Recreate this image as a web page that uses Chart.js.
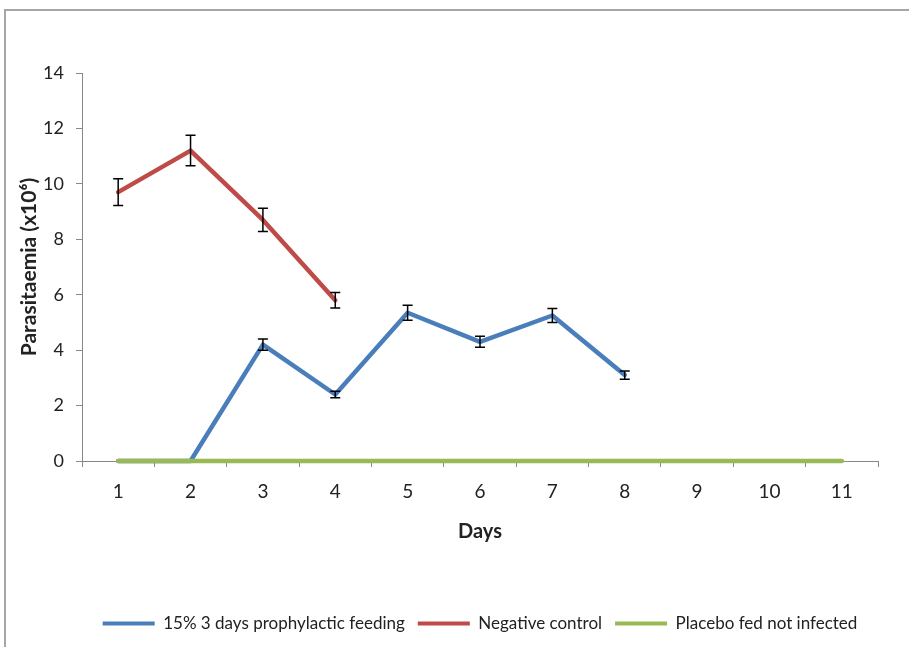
<!DOCTYPE html>
<html>
<head>
<meta charset="utf-8">
<script src="https://cdn.jsdelivr.net/npm/chart.js@4"></script>
<style>
    body { margin: 0; background: #fff; }
    #wrap { position: relative; width: 909px; height: 647px; overflow: hidden; }
    #frame { position: absolute; left: 4px; top: 9px; width: 1000px; height: 1000px;
             border-left: 2px solid #a6a6a6; border-top: 2px solid #a6a6a6; }
    #chart { position: absolute; left: 0; top: 0; }
</style>
</head>
<body>
<div id="wrap">
    <div id="frame"></div>
    <canvas id="chart" width="909" height="647"></canvas>
</div>
<script>
const days = ['1', '2', '3', '4', '5', '6', '7', '8', '9', '10', '11'];

// 15% 3 days prophylactic feeding
const prophylactic = [0, 0, 4.2, 2.4, 5.35, 4.3, 5.25, 3.1, null, null, null];
const prophylacticErr = [0, 0, 0.2, 0.12, 0.27, 0.2, 0.25, 0.15, null, null, null];

// Negative control
const negative = [9.7, 11.2, 8.7, 5.8, null, null, null, null, null, null, null];
const negativeErr = [0.48, 0.55, 0.42, 0.28, null, null, null, null, null, null, null];

// Placebo fed not infected
const placebo = [0, 0, 0, 0, 0, 0, 0, 0, 0, 0, 0];

const yTicks = [0, 2, 4, 6, 8, 10, 12, 14];

const fontFamily = 'Lato, "Open Sans", sans-serif';
const axisGrey = '#888888';

// draws the whiskers for datasets that carry an errors array
const errorBars = {
    id: 'errorBars',
    afterDatasetsDraw(chart) {
        const ctx = chart.ctx;
        const xs = chart.scales.x;
        const ys = chart.scales.y;
        ctx.save();
        ctx.strokeStyle = '#000';
        ctx.lineWidth = 1.5;
        chart.data.datasets.forEach(ds => {
            if (!ds.errors) return;
            ds.data.forEach((v, i) => {
                const e = ds.errors[i];
                if (v === null || !e) return;
                const x = xs.getPixelForValue(i);
                const top = ys.getPixelForValue(v + e);
                const bot = ys.getPixelForValue(v - e);
                ctx.beginPath();
                ctx.moveTo(x, top); ctx.lineTo(x, bot);
                ctx.moveTo(x - 5, top); ctx.lineTo(x + 5, top);
                ctx.moveTo(x - 5, bot); ctx.lineTo(x + 5, bot);
                ctx.stroke();
            });
        });
        ctx.restore();
    }
};

const ctx = document.getElementById('chart').getContext('2d');
new Chart(ctx, {
    type: 'line',
    data: {
        labels: days,
        datasets: [
            {
                label: '15% 3 days prophylactic feeding',
                data: prophylactic,
                errors: prophylacticErr,
                borderColor: '#4a7ebb',
                backgroundColor: '#4a7ebb',
                order: 2
            },
            {
                label: 'Negative control',
                data: negative,
                errors: negativeErr,
                borderColor: '#be4b48',
                backgroundColor: '#be4b48',
                order: 1
            },
            {
                label: 'Placebo fed not infected',
                data: placebo,
                borderColor: '#98b954',
                backgroundColor: '#98b954',
                order: 0
            }
        ]
    },
    options: {
        responsive: false,
        animation: false,
        spanGaps: false,
        datasets: { line: { clip: false } },
        elements: {
            point: { radius: 0, hoverRadius: 0 },
            line: { borderWidth: 4.5, tension: 0, borderCapStyle: 'round', borderJoinStyle: 'round' }
        },
        layout: { padding: { left: 17, right: 31, top: 73, bottom: 5 } },
        scales: {
            x: {
                offset: true,
                grid: { drawOnChartArea: false, offset: true, tickLength: 6, color: axisGrey },
                border: { color: axisGrey, width: 1 },
                ticks: { color: '#222', padding: 13, font: { family: fontFamily, size: 19 } },
                title: {
                    display: true,
                    text: 'Days',
                    color: '#222',
                    padding: { top: 0, bottom: 58 },
                    font: { family: fontFamily, size: 20, weight: 'bold' }
                },
                afterFit(scale) { scale.height = 141; }
            },
            y: {
                min: 0,
                max: 14,
                afterBuildTicks(scale) { scale.ticks = yTicks.map(v => ({ value: v })); },
                grid: { drawOnChartArea: false, tickLength: 6, color: axisGrey },
                border: { color: axisGrey, width: 1 },
                ticks: { color: '#222', padding: 12, font: { family: fontFamily, size: 18 } },
                title: {
                    display: true,
                    text: 'Parasitaemia (x10⁶)',
                    color: '#222',
                    padding: { top: 0, bottom: 0 },
                    font: { family: fontFamily, size: 21, weight: 'bold' }
                },
                afterFit(scale) { scale.width = 65; }
            }
        },
        plugins: {
            tooltip: { enabled: false },
            legend: {
                position: 'bottom',
                fullSize: false,
                labels: {
                    boxWidth: 52,
                    boxHeight: 4,
                    padding: 13,
                    color: '#222',
                    font: { family: fontFamily, size: 17 },
                    sort: (a, b) => a.datasetIndex - b.datasetIndex,
                    generateLabels(chart) {
                        return Chart.defaults.plugins.legend.labels.generateLabels(chart).map(item => {
                            item.fillStyle = item.strokeStyle;
                            item.lineWidth = 0;
                            return item;
                        });
                    }
                }
            }
        }
    },
    plugins: [errorBars]
});
</script>
</body>
</html>
